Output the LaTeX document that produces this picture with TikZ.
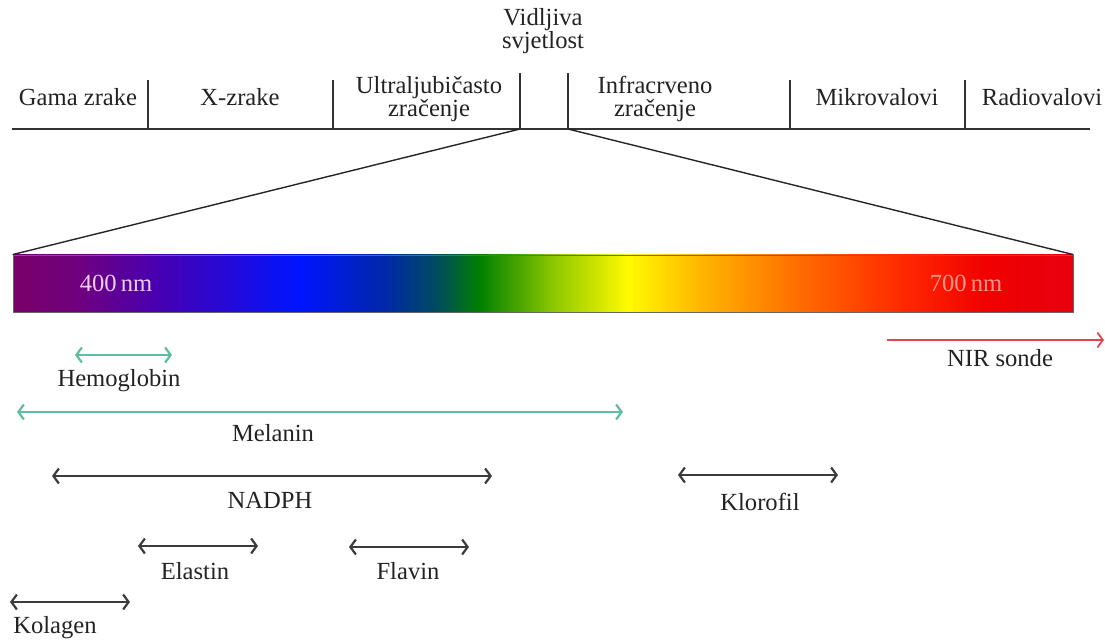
\documentclass[tikz,border=0pt]{standalone}
\usepackage{fontspec}
\setmainfont{Liberation Serif}
\usetikzlibrary{arrows.meta}
\definecolor{txt}{RGB}{35,35,35}
\definecolor{linec}{RGB}{50,50,50}
\definecolor{greenarr}{RGB}{95,190,160}
\definecolor{darkarr}{RGB}{60,60,60}
\definecolor{redarr}{RGB}{225,70,80}
\definecolor{lbl400}{RGB}{235,205,240}
\definecolor{lbl700}{RGB}{255,150,140}
\definecolor{s0}{RGB}{120,0,105}
\definecolor{s1}{RGB}{112,0,125}
\definecolor{s2}{RGB}{70,0,180}
\definecolor{s3}{RGB}{0,20,255}
\definecolor{s4}{RGB}{0,40,170}
\definecolor{s5}{RGB}{0,75,95}
\definecolor{s6}{RGB}{0,128,0}
\definecolor{s7}{RGB}{140,200,0}
\definecolor{s8}{RGB}{255,250,0}
\definecolor{s9}{RGB}{255,180,0}
\definecolor{s10}{RGB}{255,110,0}
\definecolor{s11}{RGB}{255,40,0}
\definecolor{s12}{RGB}{240,0,0}
\definecolor{s13}{RGB}{232,0,15}
\pgfdeclarehorizontalshading{spectrum}{100bp}{color(0bp)=(s0); color(25bp)=(s0); color(28bp)=(s1); color(32bp)=(s2); color(38.5bp)=(s3); color(42.5bp)=(s4); color(45bp)=(s5); color(47bp)=(s6); color(50.5bp)=(s7); color(54bp)=(s8); color(57.5bp)=(s9); color(62bp)=(s10); color(67bp)=(s11); color(71bp)=(s12); color(75bp)=(s13); color(100bp)=(s13)}
\begin{document}
\begin{tikzpicture}[x=1pt,y=-1pt,
  font=\fontsize{24.6}{23}\selectfont,
  lbl/.style={text=txt, inner sep=0pt, align=center},
  axisline/.style={draw=linec, line width=1.8pt},
  tick/.style={draw=linec, line width=1.8pt},
  zoomline/.style={draw=black!85, line width=1.4pt},
  tipbarb/.tip={Straight Barb[length=5.5pt,width=15pt]},
  rangearr/.style={line width=2.2pt, tipbarb-tipbarb},
  grn/.style={rangearr, draw=greenarr},
  drk/.style={rangearr, draw=darkarr},
  nir/.style={line width=1.8pt, draw=redarr, -tipbarb}]
\useasboundingbox (0,0) rectangle (1105,644);
\fill[white] (0,0) rectangle (1105,644);

% spectrum axis
\coordinate (axL) at (12,129);
\coordinate (axR) at (1090,129);
\draw[axisline] (axL) -- (axR);
\foreach \n/\x/\t in {t1/148/80, t2/333/80, t3/520/73, t4/568/73, t5/790/80, t6/965/80}{
  \coordinate (\n top) at (\x,\t);
  \coordinate (\n) at (\x,129);
  \draw[tick] (\n top) -- (\n);
}

\node[lbl] (gama) at (78,97) {Gama zrake};
\node[lbl] (xray) at (240,97) {X-zrake};
\node[lbl] (uv) at (429,99) {Ultraljubičasto\\zračenje};
\node[lbl] (vis) at (543,31) {Vidljiva\\svjetlost};
\node[lbl] (ir) at (655,99) {Infracrveno\\zračenje};
\node[lbl] (micro) at (877,97) {Mikrovalovi};
\node[lbl] (radio) at (1042,97) {Radiovalovi};

% visible bar
\node[draw=black!60, line width=0.8pt, shading=spectrum, minimum width=1060pt, minimum height=57pt, inner sep=0pt] (bar) at (543,283.5) {};
\draw[zoomline] (t3) -- (bar.north west);
\draw[zoomline] (t4) -- (bar.north east);
\node[lbl, text=lbl400] (n400) at (116,283) {400\,nm};
\node[lbl, text=lbl700] (n700) at (966,283) {700\,nm};

% NIR
\coordinate (nirA) at (887,340);
\coordinate (nirB) at (1104,340);
\draw[nir] (nirA) -- (nirB);
\node[lbl] (nirl) at (1000,358) {NIR sonde};

% ranges
\coordinate (hemA) at (75,355); \coordinate (hemB) at (172,355);
\draw[grn] (hemA) -- (hemB);
\node[lbl] (heml) at (119,381) {Hemoglobin};

\coordinate (melA) at (17,412); \coordinate (melB) at (623,412);
\draw[grn] (melA) -- (melB);
\node[lbl] (mell) at (273,433) {Melanin};

\coordinate (nadA) at (52,476); \coordinate (nadB) at (492,476);
\draw[drk] (nadA) -- (nadB);
\node[lbl] (nadl) at (270,500) {NADPH};

\coordinate (kloA) at (678,475); \coordinate (kloB) at (838,475);
\draw[drk] (kloA) -- (kloB);
\node[lbl] (klol) at (760,502) {Klorofil};

\coordinate (elaA) at (138,546); \coordinate (elaB) at (258,546);
\draw[drk] (elaA) -- (elaB);
\node[lbl] (elal) at (195,571) {Elastin};

\coordinate (flaA) at (349,547); \coordinate (flaB) at (469,547);
\draw[drk] (flaA) -- (flaB);
\node[lbl] (flal) at (408,571) {Flavin};

\coordinate (kolA) at (10,602); \coordinate (kolB) at (130,602);
\draw[drk] (kolA) -- (kolB);
\node[lbl] (koll) at (55,628) {Kolagen};
\end{tikzpicture}
\end{document}
